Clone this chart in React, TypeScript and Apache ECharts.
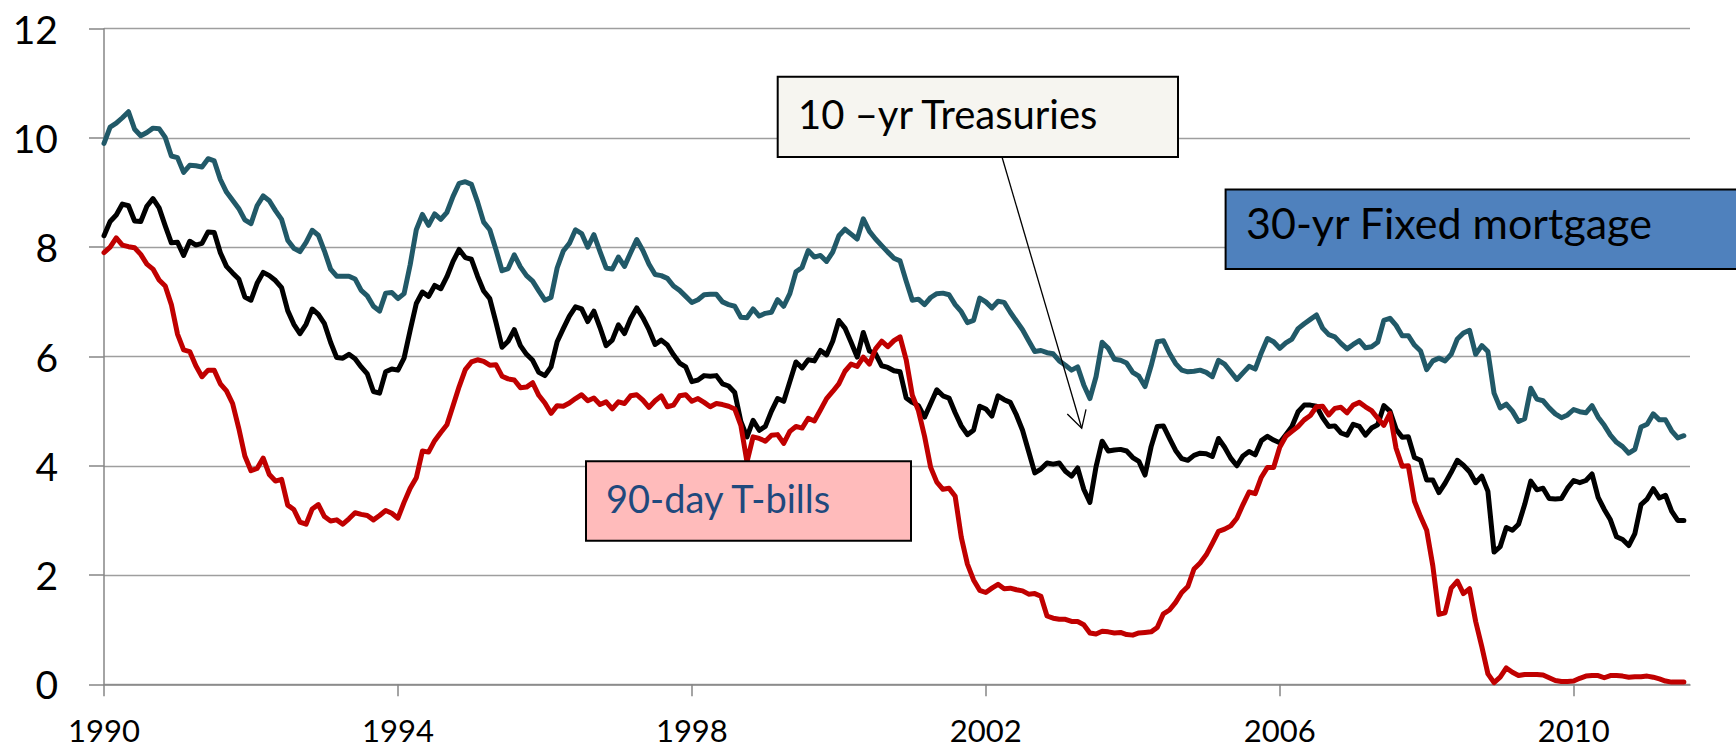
import React, { useEffect, useRef } from "react";
import * as echarts from "echarts";

// Monthly data, Jan 1990 – Jul 2011 (percent)
const mortgage30: number[] = [
  // 1990
  9.9, 10.2, 10.27, 10.37, 10.48, 10.16, 10.04, 10.1, 10.18, 10.17, 10.01, 9.67,
  // 1991
  9.64, 9.37, 9.5, 9.49, 9.47, 9.62, 9.58, 9.24, 9.01, 8.86, 8.71, 8.5,
  // 1992
  8.43, 8.76, 8.94, 8.85, 8.67, 8.51, 8.13, 7.98, 7.92, 8.09, 8.31, 8.22,
  // 1993
  7.93, 7.6, 7.47, 7.47, 7.47, 7.42, 7.21, 7.11, 6.92, 6.83, 7.16, 7.17,
  // 1994
  7.06, 7.15, 7.68, 8.32, 8.6, 8.4, 8.61, 8.51, 8.64, 8.93, 9.17, 9.2,
  // 1995
  9.15, 8.83, 8.46, 8.32, 7.96, 7.57, 7.61, 7.86, 7.64, 7.48, 7.38, 7.2,
  // 1996
  7.03, 7.08, 7.62, 7.93, 8.07, 8.32, 8.25, 8.0, 8.23, 7.92, 7.62, 7.6,
  // 1997
  7.82, 7.65, 7.9, 8.14, 7.94, 7.69, 7.5, 7.48, 7.43, 7.29, 7.21, 7.1,
  // 1998
  6.99, 7.04, 7.13, 7.14, 7.14, 7.0, 6.95, 6.92, 6.72, 6.71, 6.87, 6.74,
  // 1999
  6.79, 6.81, 7.04, 6.92, 7.15, 7.55, 7.63, 7.94, 7.82, 7.85, 7.74, 7.91,
  // 2000
  8.21, 8.33, 8.24, 8.15, 8.52, 8.29, 8.15, 8.03, 7.91, 7.8, 7.75, 7.38,
  // 2001
  7.03, 7.05, 6.95, 7.08, 7.15, 7.16, 7.13, 6.95, 6.82, 6.62, 6.66, 7.07,
  // 2002
  7.0, 6.89, 7.01, 6.99, 6.81, 6.65, 6.49, 6.29, 6.09, 6.11, 6.07, 6.05,
  // 2003
  5.92, 5.84, 5.75, 5.81, 5.48, 5.23, 5.63, 6.26, 6.15, 5.95, 5.93, 5.88,
  // 2004
  5.71, 5.64, 5.45, 5.83, 6.27, 6.29, 6.06, 5.87, 5.75, 5.72, 5.73, 5.75,
  // 2005
  5.71, 5.63, 5.93, 5.86, 5.72, 5.58, 5.7, 5.82, 5.77, 6.07, 6.33, 6.27,
  // 2006
  6.15, 6.25, 6.32, 6.51, 6.6, 6.68, 6.76, 6.52, 6.4, 6.36, 6.24, 6.14,
  // 2007
  6.22, 6.29, 6.16, 6.18, 6.26, 6.66, 6.7, 6.57, 6.38, 6.38, 6.21, 6.1,
  // 2008
  5.76, 5.92, 5.97, 5.92, 6.04, 6.32, 6.43, 6.48, 6.04, 6.2, 6.09, 5.33,
  // 2009
  5.06, 5.13, 5.0, 4.81, 4.86, 5.42, 5.22, 5.19, 5.06, 4.95, 4.88, 4.93,
  // 2010
  5.03, 4.99, 4.97, 5.1, 4.89, 4.74, 4.56, 4.43, 4.35, 4.23, 4.3, 4.71,
  // 2011
  4.76, 4.95, 4.84, 4.84, 4.64, 4.51, 4.55,
];

const treasury10: number[] = [
  // 1990
  8.21, 8.47, 8.59, 8.79, 8.76, 8.48, 8.47, 8.75, 8.89, 8.72, 8.39, 8.08,
  // 1991
  8.09, 7.85, 8.11, 8.04, 8.07, 8.28, 8.27, 7.9, 7.65, 7.53, 7.42, 7.09,
  // 1992
  7.03, 7.34, 7.54, 7.48, 7.39, 7.26, 6.84, 6.59, 6.42, 6.59, 6.87, 6.77,
  // 1993
  6.6, 6.26, 5.98, 5.97, 6.04, 5.96, 5.81, 5.68, 5.36, 5.33, 5.72, 5.77,
  // 1994
  5.75, 5.97, 6.48, 6.97, 7.18, 7.1, 7.3, 7.24, 7.46, 7.74, 7.96, 7.81,
  // 1995
  7.78, 7.47, 7.2, 7.06, 6.63, 6.17, 6.28, 6.49, 6.2, 6.04, 5.93, 5.71,
  // 1996
  5.65, 5.81, 6.27, 6.51, 6.74, 6.91, 6.87, 6.64, 6.83, 6.53, 6.2, 6.3,
  // 1997
  6.58, 6.42, 6.69, 6.89, 6.71, 6.49, 6.22, 6.3, 6.21, 6.03, 5.88, 5.81,
  // 1998
  5.54, 5.57, 5.65, 5.64, 5.65, 5.5, 5.46, 5.34, 4.81, 4.53, 4.83, 4.65,
  // 1999
  4.72, 5.0, 5.23, 5.18, 5.54, 5.9, 5.79, 5.94, 5.92, 6.11, 6.03, 6.28,
  // 2000
  6.66, 6.52, 6.26, 5.99, 6.44, 6.1, 6.05, 5.83, 5.8, 5.74, 5.72, 5.24,
  // 2001
  5.16, 5.1, 4.89, 5.14, 5.39, 5.28, 5.24, 4.97, 4.73, 4.57, 4.65, 5.09,
  // 2002
  5.04, 4.91, 5.28, 5.21, 5.16, 4.93, 4.65, 4.26, 3.87, 3.94, 4.05, 4.03,
  // 2003
  4.05, 3.9, 3.81, 3.96, 3.57, 3.33, 3.98, 4.45, 4.27, 4.29, 4.3, 4.27,
  // 2004
  4.15, 4.08, 3.83, 4.35, 4.72, 4.73, 4.5, 4.28, 4.13, 4.1, 4.19, 4.23,
  // 2005
  4.22, 4.17, 4.5, 4.34, 4.14, 4.0, 4.18, 4.26, 4.2, 4.46, 4.54, 4.47,
  // 2006
  4.42, 4.57, 4.72, 4.99, 5.11, 5.11, 5.09, 4.88, 4.72, 4.73, 4.6, 4.56,
  // 2007
  4.76, 4.72, 4.56, 4.69, 4.75, 5.1, 5.0, 4.67, 4.52, 4.53, 4.15, 4.1,
  // 2008
  3.74, 3.74, 3.51, 3.68, 3.88, 4.1, 4.01, 3.89, 3.69, 3.81, 3.53, 2.42,
  // 2009
  2.52, 2.87, 2.82, 2.93, 3.29, 3.72, 3.56, 3.59, 3.4, 3.39, 3.4, 3.59,
  // 2010
  3.73, 3.69, 3.73, 3.85, 3.42, 3.2, 3.01, 2.7, 2.65, 2.54, 2.76, 3.29,
  // 2011
  3.39, 3.58, 3.41, 3.46, 3.17, 3.0, 3.0,
];

const tbill90: number[] = [
  // 1990
  7.9, 8.0, 8.17, 8.04, 8.01, 7.99, 7.87, 7.69, 7.6, 7.4, 7.29, 6.95,
  // 1991
  6.41, 6.12, 6.09, 5.83, 5.63, 5.75, 5.75, 5.5, 5.37, 5.14, 4.69, 4.18,
  // 1992
  3.91, 3.95, 4.14, 3.84, 3.72, 3.75, 3.28, 3.2, 2.97, 2.93, 3.21, 3.29,
  // 1993
  3.07, 2.99, 3.01, 2.93, 3.03, 3.14, 3.11, 3.09, 3.01, 3.09, 3.18, 3.13,
  // 1994
  3.04, 3.33, 3.59, 3.78, 4.27, 4.25, 4.46, 4.61, 4.75, 5.1, 5.45, 5.76,
  // 1995
  5.9, 5.94, 5.91, 5.84, 5.85, 5.64, 5.59, 5.57, 5.43, 5.44, 5.52, 5.29,
  // 1996
  5.15, 4.96, 5.1, 5.09, 5.15, 5.23, 5.3, 5.19, 5.24, 5.12, 5.17, 5.04,
  // 1997
  5.17, 5.14, 5.28, 5.3, 5.2, 5.07, 5.19, 5.28, 5.08, 5.11, 5.28, 5.3,
  // 1998
  5.18, 5.23, 5.16, 5.08, 5.14, 5.12, 5.09, 5.04, 4.74, 4.07, 4.53, 4.5,
  // 1999
  4.45, 4.56, 4.57, 4.41, 4.63, 4.72, 4.69, 4.87, 4.82, 5.02, 5.23, 5.36,
  // 2000
  5.5, 5.73, 5.86, 5.82, 5.99, 5.86, 6.14, 6.28, 6.18, 6.29, 6.36, 5.94,
  // 2001
  5.29, 5.01, 4.54, 3.97, 3.7, 3.57, 3.59, 3.44, 2.69, 2.2, 1.91, 1.72,
  // 2002
  1.68, 1.76, 1.83, 1.75, 1.76, 1.73, 1.71, 1.65, 1.66, 1.61, 1.25, 1.21,
  // 2003
  1.19, 1.19, 1.15, 1.15, 1.09, 0.94, 0.92, 0.97, 0.96, 0.94, 0.95, 0.91,
  // 2004
  0.9, 0.94, 0.95, 0.96, 1.04, 1.29, 1.36, 1.5, 1.68, 1.79, 2.11, 2.22,
  // 2005
  2.37, 2.58, 2.8, 2.84, 2.9, 3.04, 3.29, 3.52, 3.49, 3.79, 3.97, 3.97,
  // 2006
  4.34, 4.54, 4.63, 4.72, 4.84, 4.92, 5.08, 5.09, 4.93, 5.05, 5.07, 4.97,
  // 2007
  5.11, 5.16, 5.08, 5.01, 4.87, 4.74, 4.96, 4.32, 3.99, 4.0, 3.35, 3.07,
  // 2008
  2.82, 2.17, 1.28, 1.31, 1.76, 1.89, 1.66, 1.75, 1.15, 0.69, 0.19, 0.03,
  // 2009
  0.13, 0.3, 0.22, 0.16, 0.18, 0.18, 0.18, 0.17, 0.12, 0.07, 0.05, 0.05,
  // 2010
  0.06, 0.11, 0.15, 0.16, 0.16, 0.12, 0.16, 0.16, 0.15, 0.13, 0.14, 0.14,
  // 2011
  0.15, 0.13, 0.1, 0.06, 0.04, 0.04, 0.04,
];

// Month categories Jan 1990 – Aug 2011 (axis runs one month past the last point)
const startYear = 1990;
const monthCount = 260;
const months: string[] = [];
for (let i = 0; i < monthCount; i++) {
  const y = startYear + Math.floor(i / 12);
  const m = (i % 12) + 1;
  months.push(`${y}-${m < 10 ? "0" + m : m}`);
}
const yearLabelStep = 48; // a label every 4 years

const FONT = "Lato, 'Open Sans', sans-serif";

export default function App() {
  const ref = useRef<HTMLDivElement>(null);
  useEffect(() => {
    document.body.style.margin = "0";
    const chart = echarts.init(ref.current!, null, { renderer: "svg" });
    const showEvery = (i: number) => i % yearLabelStep === 0;
    chart.setOption({
      animation: false,
      backgroundColor: "#ffffff",
      grid: { left: 104, right: 46, top: 28.7, bottom: 64.7, containLabel: false },
      xAxis: {
        type: "category",
        data: months,
        boundaryGap: false,
        axisLine: { show: true, lineStyle: { color: "#868686", width: 1.5 } },
        axisTick: { show: true, interval: showEvery, length: 12, lineStyle: { color: "#868686", width: 1.5 } },
        axisLabel: {
          interval: showEvery,
          formatter: (v: string) => v.slice(0, 4),
          fontSize: 31,
          fontFamily: FONT,
          color: "#000",
          margin: 30,
        },
        splitLine: { show: false },
      },
      yAxis: {
        type: "value",
        min: 0,
        max: 12,
        interval: 2,
        axisLine: { show: true, lineStyle: { color: "#868686", width: 1.5 } },
        axisTick: { show: true, length: 15, lineStyle: { color: "#868686", width: 1.5 } },
        axisLabel: { fontSize: 39, fontFamily: FONT, color: "#000", margin: 46 },
        splitLine: { show: true, lineStyle: { color: "#9e9e9e", width: 1.4 } },
      },
      series: [
        {
          name: "30-yr Fixed mortgage",
          type: "line",
          data: mortgage30,
          showSymbol: false,
          lineStyle: { color: "#215968", width: 5, join: "round", cap: "round" },
          itemStyle: { color: "#215968" },
        },
        {
          name: "10-yr Treasuries",
          type: "line",
          data: treasury10,
          showSymbol: false,
          lineStyle: { color: "#000000", width: 5, join: "round", cap: "round" },
          itemStyle: { color: "#000000" },
        },
        {
          name: "90-day T-bills",
          type: "line",
          data: tbill90,
          showSymbol: false,
          lineStyle: { color: "#C00000", width: 5, join: "round", cap: "round" },
          itemStyle: { color: "#C00000" },
        },
      ],
      graphic: [
        {
          type: "rect",
          z: 100,
          shape: { x: 777.7, y: 76.7, width: 400.3, height: 80.3 },
          style: { fill: "#F6F5F0", stroke: "#000", lineWidth: 2 },
        },
        {
          type: "text",
          z: 101,
          x: 798,
          y: 114,
          style: { text: "10 \u2013yr Treasuries", fontSize: 40, fontFamily: FONT, fill: "#000", verticalAlign: "middle" },
        },
        {
          type: "line",
          z: 100,
          shape: { x1: 1002, y1: 157, x2: 1081.7, y2: 428.3 },
          style: { stroke: "#000", lineWidth: 1.3 },
        },
        {
          type: "polyline",
          z: 100,
          shape: { points: [[1067.3, 414], [1081.7, 428.3], [1086, 409.3]] },
          style: { stroke: "#000", lineWidth: 1.3, fill: null },
        },
        {
          type: "rect",
          z: 100,
          shape: { x: 1225.6, y: 189.5, width: 600, height: 79.5 },
          style: { fill: "#4F81BD", stroke: "#000", lineWidth: 2 },
        },
        {
          type: "text",
          z: 101,
          x: 1246,
          y: 222,
          style: { text: "30-yr Fixed mortgage", fontSize: 43, fontFamily: FONT, fill: "#000", verticalAlign: "middle" },
        },
        {
          type: "rect",
          z: 100,
          shape: { x: 586, y: 461.3, width: 325, height: 79.4 },
          style: { fill: "#FFBBBB", stroke: "#000", lineWidth: 2 },
        },
        {
          type: "text",
          z: 101,
          x: 606,
          y: 498,
          style: { text: "90-day T-bills", fontSize: 38, fontFamily: FONT, fill: "#1F497D", verticalAlign: "middle" },
        },
      ],
    });
    return () => chart.dispose();
  }, []);
  return <div ref={ref} style={{ width: 1736, height: 749 }} />;
}
